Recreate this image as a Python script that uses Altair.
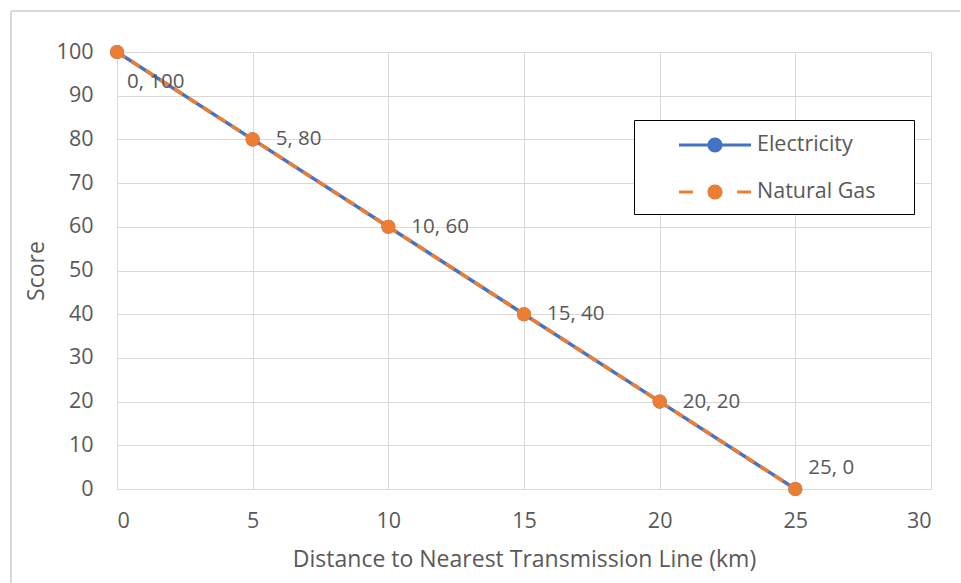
import altair as alt
import pandas as pd

# Scores by distance to the nearest transmission line
distance_km = [0, 5, 10, 15, 20, 25]
electricity_score = [100, 80, 60, 40, 20, 0]
natural_gas_score = [100, 80, 60, 40, 20, 0]

series_names = ["Electricity", "Natural Gas"]
series_colors = ["#4472C4", "#ED7D31"]

x_ticks = [0, 5, 10, 15, 20, 25, 30]
y_ticks = [0, 10, 20, 30, 40, 50, 60, 70, 80, 90, 100]

FONT = "Open Sans"
TEXT = "#595959"
GRID = "#D9D9D9"
TICK_SIZE = 21.5
TITLE_SIZE = 23
LABEL_SIZE = 20.5

df = pd.DataFrame({
    "distance": distance_km + distance_km,
    "score": electricity_score + natural_gas_score,
    "series": [series_names[0]] * len(distance_km) + [series_names[1]] * len(distance_km),
})

x_enc = alt.X(
    "distance:Q",
    scale=alt.Scale(domain=[0, 30], nice=False, zero=False),
    axis=alt.Axis(
        values=x_ticks, grid=True, gridColor=GRID, gridWidth=1,
        domain=False, ticks=False, tickSize=0,
        labelPadding=38, labelBaseline="alphabetic",
        labelFont=FONT, labelFontSize=TICK_SIZE, labelColor=TEXT,
        title="Distance to Nearest Transmission Line (km)",
        titleFont=FONT, titleFontSize=TITLE_SIZE, titleFontWeight="normal", titleColor=TEXT,
        titleY=77, titleBaseline="alphabetic",
    ),
)
y_enc = alt.Y(
    "score:Q",
    scale=alt.Scale(domain=[0, 100], nice=False),
    axis=alt.Axis(
        values=y_ticks, grid=True, gridColor=GRID, gridWidth=1,
        domain=False, ticks=False, tickSize=0,
        labelPadding=24, labelFont=FONT, labelFontSize=TICK_SIZE, labelColor=TEXT,
        title="Score", titleFont=FONT, titleFontSize=TITLE_SIZE, titleFontWeight="normal",
        titleColor=TEXT, titleX=-74, titleY=218.5, titleBaseline="alphabetic",
    ),
)

base = alt.Chart(df).encode(x=x_enc, y=y_enc)

line_elec = base.transform_filter(alt.datum.series == series_names[0]).mark_line(
    color=series_colors[0], strokeWidth=3.5
)
line_gas = base.transform_filter(alt.datum.series == series_names[1]).mark_line(
    color=series_colors[1], strokeWidth=3.5, strokeDash=[10, 7]
)
pts_elec = base.transform_filter(alt.datum.series == series_names[0]).mark_circle(
    size=200, opacity=1, color=series_colors[0]
)
pts_gas = base.transform_filter(alt.datum.series == series_names[1]).mark_circle(
    size=200, opacity=1, color=series_colors[1]
)

# Legend glyphs (unit = 15 px): filled line bar(s) plus a dot.
# The lone move-tos only widen the legend box.
EXTENT = "M-4.8,-1M12.6,0.8"
DOT = "M0.5,0A0.5,0.5,0,1,1,-0.5,0A0.5,0.5,0,1,1,0.5,0Z"
glyph_solid = EXTENT + "M-2.4,-0.1H2.4V0.1H-2.4Z" + DOT
glyph_dashed = EXTENT + "M-2.4,-0.1H-1.47V0.1H-2.4ZM1.47,-0.1H2.4V0.1H1.47Z" + DOT

legend = alt.Legend(
    title=None, orient="none", legendX=517, legendY=68, direction="vertical",
    padding=10, strokeColor="#000000", fillColor="#FFFFFF", cornerRadius=0,
    rowPadding=20, symbolSize=900, symbolOffset=56, symbolStrokeWidth=0,
    symbolOpacity=1, labelOffset=27, labelFont=FONT, labelFontSize=TICK_SIZE,
    labelColor=TEXT, labelLimit=300,
)

legend_layer = base.transform_filter("false").mark_point(filled=True, opacity=1).encode(
    color=alt.Color("series:N", scale=alt.Scale(domain=series_names, range=series_colors),
                    legend=legend),
    shape=alt.Shape("series:N", scale=alt.Scale(domain=series_names,
                                                range=[glyph_solid, glyph_dashed]),
                    legend=legend),
)

labeled = base.transform_filter(alt.datum.series == series_names[1]).transform_calculate(
    label="datum.distance + ', ' + datum.score"
)
text_style = dict(align="left", baseline="middle", font=FONT, fontSize=LABEL_SIZE, color=TEXT)
labels_mid = labeled.transform_filter(
    (alt.datum.distance > 0) & (alt.datum.distance < 25)
).mark_text(dx=23, dy=0, **text_style).encode(text="label:N")
labels_first = labeled.transform_filter(alt.datum.distance == 0).mark_text(
    dx=10, dy=30, **text_style
).encode(text="label:N")
labels_last = labeled.transform_filter(alt.datum.distance == 25).mark_text(
    dx=13, dy=-21, **text_style
).encode(text="label:N")

# Light outer frame of the chart
frame_src = alt.Data(values=[{}])
frame_top = alt.Chart(frame_src).mark_rule(color=GRID, strokeWidth=2).encode(
    x=alt.value(-106), x2=alt.value(843), y=alt.value(-41)
)
frame_left = alt.Chart(frame_src).mark_rule(color=GRID, strokeWidth=2).encode(
    x=alt.value(-106), y=alt.value(-41), y2=alt.value(531)
)

chart = alt.layer(
    frame_top, frame_left, line_elec, line_gas, pts_elec, pts_gas, legend_layer,
    labels_mid, labels_first, labels_last,
).properties(
    width=814, height=437,
    autosize=alt.AutoSizeParams(type="none"),
    padding={"left": 117, "top": 52, "right": 30, "bottom": 94},
    background="#FFFFFF",
).configure_view(stroke=None)

chart.save("out.html", embed_options={"renderer": "svg", "actions": False})
